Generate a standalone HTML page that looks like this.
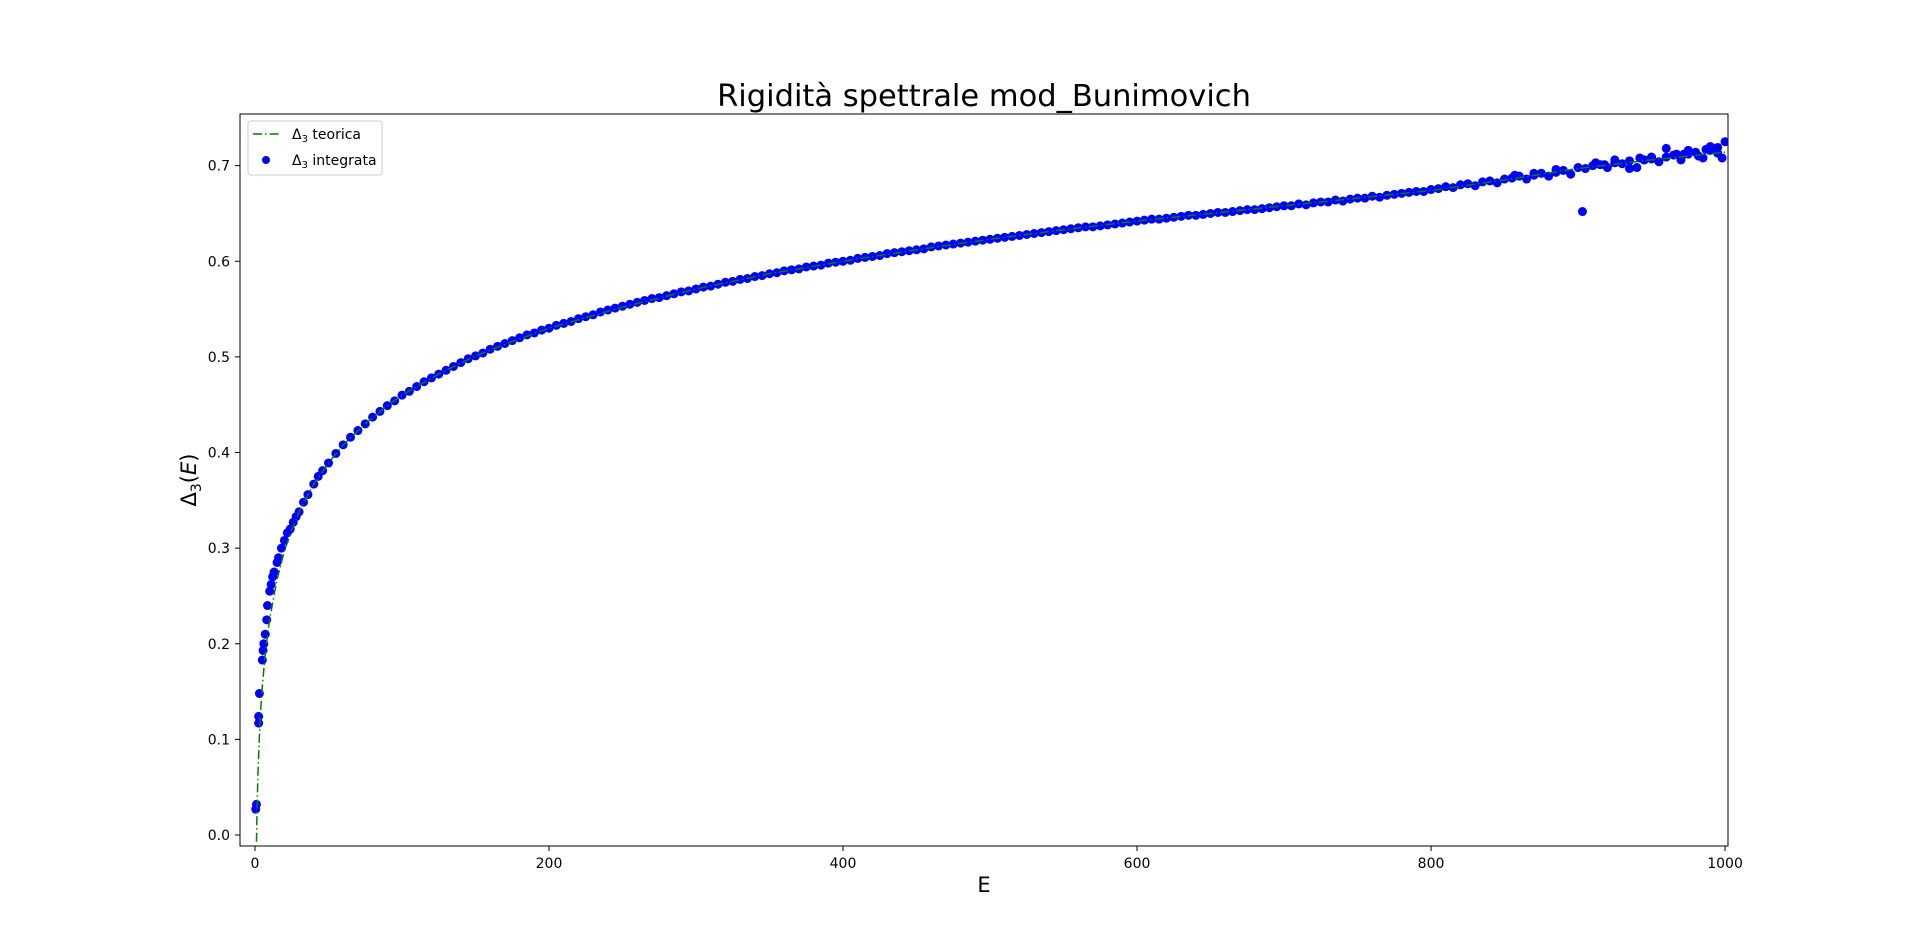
<!DOCTYPE html>
<html><head><meta charset="utf-8"><style>
body{margin:0;background:#fff;}
svg{display:block;font-family:"DejaVu Sans","Liberation Sans",sans-serif;}
</style></head><body>
<svg id="chart" width="1920" height="951" viewBox="0 0 1920 951" xmlns="http://www.w3.org/2000/svg">
<rect width="1920" height="951" fill="#fff"/>
<text x="984" y="106" font-size="30.5" text-anchor="middle">Rigidità spettrale mod_Bunimovich</text>
<defs><clipPath id="plotclip"><rect x="240" y="114" width="1488" height="732"/></clipPath></defs>
<g id="marks" clip-path="url(#plotclip)"></g>
<rect x="240" y="114" width="1488" height="732" fill="none" stroke="#000" stroke-width="1"/>
<g id="axes"></g>
<text x="984" y="892" font-size="21" text-anchor="middle">E</text>
<text transform="translate(196,480) rotate(-90)" font-size="21" text-anchor="middle">Δ<tspan font-size="14" dy="5">3</tspan><tspan dy="-5">(</tspan><tspan font-style="italic">E</tspan>)</text>
<g>
<rect x="248" y="121" width="134" height="54" rx="3" fill="#fff" fill-opacity="0.8" stroke="#ccc"/>
<line x1="253" y1="134" x2="281" y2="134" stroke="green" stroke-width="1.5" stroke-dasharray="9,3,1.5,3"/>
<text x="292" y="139" font-size="14">Δ<tspan font-size="10" dy="3">3</tspan><tspan dy="-3"> teorica</tspan></text>
<circle cx="266" cy="160" r="4" fill="blue"/>
<text x="292" y="165" font-size="14">Δ<tspan font-size="10" dy="3">3</tspan><tspan dy="-3"> integrata</tspan></text>
</g>
</svg>
<script>
const xTicks=[0,200,400,600,800,1000];
const yTicks=[0.0,0.1,0.2,0.3,0.4,0.5,0.6,0.7];
const lineE=[1,1.5,2,3,4,5,7,10,15,20,25,30,40,50,60,75,90,100,125,150,175,200,250,300,350,400,450,500,550,600,650,700,750,800,850,900,950,1000];
const lineD=[-0.007,0.034,0.063,0.104,0.133,0.156,0.190,0.226,0.267,0.297,0.319,0.338,0.367,0.389,0.408,0.430,0.449,0.460,0.482,0.501,0.516,0.530,0.552,0.571,0.587,0.600,0.612,0.623,0.633,0.642,0.650,0.658,0.666,0.674,0.685,0.697,0.706,0.714];
const earlyE=[0.5,1,2.5,2.5,3,5,5.5,6,7,8,8.5,10,11,12,13,15,16,18,20,22,24,26,28,30,33,36,40,43,46];
const earlyD=[0.027,0.032,0.117,0.124,0.148,0.183,0.193,0.2,0.21,0.225,0.24,0.255,0.262,0.27,0.275,0.285,0.29,0.3,0.308,0.316,0.32,0.327,0.333,0.338,0.348,0.356,0.367,0.375,0.381];
const mainStart=50, mainStep=5;
const mainD=[0.389,0.399,0.408,0.416,0.423,0.430,0.437,0.443,0.449,0.454,0.460,
0.464,0.469,0.474,0.478,0.482,0.486,0.490,0.494,0.498,0.501,0.504,0.508,0.511,0.514,0.517,0.520,0.523,0.525,0.528,0.530,
0.533,0.535,0.537,0.540,0.542,0.544,0.547,0.549,0.551,0.553,0.555,0.557,0.559,0.561,0.562,0.564,0.566,0.568,0.569,0.571,
0.573,0.574,0.576,0.578,0.579,0.581,0.582,0.584,0.585,0.587,0.588,0.590,0.591,0.592,0.594,0.595,0.596,0.598,0.599,0.600,
0.601,0.603,0.604,0.605,0.606,0.608,0.609,0.610,0.611,0.612,0.613,0.615,0.616,0.617,0.618,0.619,0.620,0.621,0.622,0.623,
0.624,0.625,0.626,0.627,0.628,0.629,0.630,0.631,0.632,0.633,0.634,0.635,0.636,0.636,0.637,0.638,0.639,0.640,0.641,0.642,
0.643,0.644,0.644,0.645,0.646,0.647,0.648,0.648,0.649,0.650,0.651,0.651,0.652,0.653,0.654,0.654,0.655,0.656,0.657,0.658,
0.658,0.660,0.659,0.661,0.662,0.662,0.664,0.663,0.665,0.666,0.666,0.668,0.667,0.669,0.670,0.671,0.672,0.673,0.673,0.675,
0.676,0.678,0.677,0.680,0.681,0.679,0.683,0.684,0.682,0.686,0.687,0.689,0.686,0.690,0.692,0.689,0.693,0.695,0.691,0.698,
0.697,0.700,0.701,0.698,0.703,0.702,0.705,0.698,0.706,0.707,0.704,0.709,0.711,0.706,0.712,0.714,0.708,0.716,0.713,0.725];
const extraE=[903,935,960,982,990,998,870,925,950,975,912,942,967,987,995,857,885,918,945,972];
const extraD=[0.652,0.697,0.718,0.710,0.720,0.708,0.692,0.706,0.709,0.716,0.703,0.708,0.712,0.717,0.719,0.690,0.696,0.701,0.706,0.712];

const NS="http://www.w3.org/2000/svg";
const X0=240,X1=1728,Y0=846,Y1=114;
const xmin=-10.2,xmax=1002,ymin=-0.0115,ymax=0.754;
function sx(v){return X0+(v-xmin)/(xmax-xmin)*(X1-X0);}
function sy(v){return Y0-(v-ymin)/(ymax-ymin)*(Y0-Y1);}
const marks=document.getElementById('marks'), axes=document.getElementById('axes');
function mk(tag,attrs,parent){const e=document.createElementNS(NS,tag);for(const k in attrs)e.setAttribute(k,attrs[k]);parent.appendChild(e);return e;}

xTicks.forEach(t=>{
  const l=mk('line',{x1:sx(t),x2:sx(t),y1:846,y2:851,stroke:'#000'},axes);
  
  
  const tx=mk('text',{x:sx(t),y:868,'font-size':14,'text-anchor':'middle'},axes);
  tx.textContent=String(t);
  
  
});
yTicks.forEach(t=>{
  const l=mk('line',{x1:235,x2:240,y1:sy(t),y2:sy(t),stroke:'#000'},axes);
  
  
  const tx=mk('text',{x:230,y:sy(t)+5,'font-size':14,'text-anchor':'end'},axes);
  tx.textContent=t.toFixed(1);
  
  
});

function dot(e,d){
  const c=mk('circle',{cx:sx(e),cy:sy(d),r:4.5,fill:'blue'},marks);
  
  
}
earlyE.forEach((e,i)=>dot(e,earlyD[i]));
mainD.forEach((d,i)=>dot(mainStart+i*mainStep,d));
extraE.forEach((e,i)=>dot(e,extraD[i]));

const p=mk('polyline',{points:lineE.map((e,i)=>sx(e)+','+sy(Math.max(lineD[i],ymin))).join(' '),fill:'none',stroke:'green','stroke-width':1.5,'stroke-dasharray':'9,3,1.5,3'},marks);


</script>
</body></html>
